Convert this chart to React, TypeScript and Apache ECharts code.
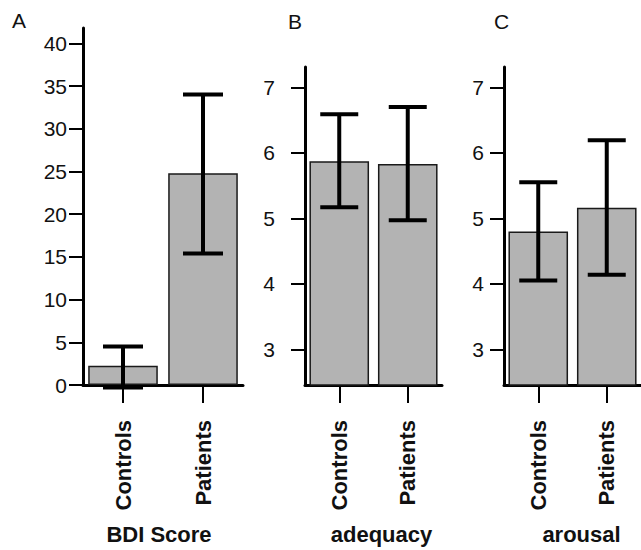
import React, { useEffect, useRef } from "react";
import * as echarts from "echarts";

const categories = ["Controls", "Patients"];

const bdiMeans = [2.25, 24.8];
const bdiLow = [-0.3, 15.4];
const bdiHigh = [4.5, 34.0];

const adequacyMeans = [5.87, 5.83];
const adequacyLow = [5.17, 4.97];
const adequacyHigh = [6.59, 6.7];

const arousalMeans = [4.8, 5.16];
const arousalLow = [4.05, 4.14];
const arousalHigh = [5.55, 6.19];

const bdiTicks = [0, 5, 10, 15, 20, 25, 30, 35, 40];
const ratingTicks = [3, 4, 5, 6, 7];

const panelLetters = ["A", "B", "C"];
const axisNames = ["BDI Score", "adequacy", "arousal"];

const FONT = "'Liberation Sans', Arial, Helvetica, sans-serif";

export default function App() {
  const ref = useRef<HTMLDivElement>(null);

  useEffect(() => {
    if (!ref.current) return;
    const chart = echarts.init(ref.current, null, { renderer: "svg" });

    const grids = [
      { left: 83, top: 28, width: 160, height: 361.5 },
      { left: 305, top: 67, width: 137, height: 321.5 },
      { left: 504, top: 67, width: 138, height: 321.5 },
    ];

    const namePads = [
      [0, 8, 0, 0],
      [0, 0, 0, 16],
      [0, 0, 0, 18],
    ];
    const yMargins = [16, 30, 20];
    const capWidths = [40, 38, 38];

    const means = [bdiMeans, adequacyMeans, arousalMeans];
    const lows = [bdiLow, adequacyLow, arousalLow];
    const highs = [bdiHigh, adequacyHigh, arousalHigh];

    const xAxes = grids.map((_, i) => ({
      type: "category",
      gridIndex: i,
      data: categories,
      name: axisNames[i],
      nameLocation: "middle",
      nameGap: 138,
      nameTextStyle: {
        fontSize: 22,
        fontWeight: "bold",
        color: "#111",
        fontFamily: FONT,
        padding: namePads[i],
      },
      axisLine: { show: true, lineStyle: { color: "#000", width: 3 } },
      axisTick: {
        show: true,
        alignWithLabel: true,
        length: 18,
        lineStyle: { color: "#000", width: 2 },
      },
      axisLabel: {
        rotate: 90,
        fontSize: 22,
        fontWeight: "bold",
        color: "#111",
        fontFamily: FONT,
        margin: 35,
        interval: 0,
      },
      splitLine: { show: false },
    }));

    const yAxes = grids.map((_, i) => {
      const ticks = i === 0 ? bdiTicks : ratingTicks;
      return {
        type: "value",
        gridIndex: i,
        min: i === 0 ? 0 : 2.455,
        max: i === 0 ? 41.8 : 7.31,
        axisLine: { show: true, lineStyle: { color: "#000", width: 3 } },
        axisTick: {
          show: true,
          length: 14,
          customValues: ticks,
          lineStyle: { color: "#000", width: 2 },
        },
        axisLabel: {
          customValues: ticks,
          fontSize: 21,
          color: "#111",
          fontFamily: FONT,
          margin: yMargins[i],
        },
        splitLine: { show: false },
      };
    });

    const barSeries = grids.map((_, i) => ({
      type: "bar",
      xAxisIndex: i,
      yAxisIndex: i,
      data: means[i],
      barWidth: "87%",
      itemStyle: { color: "#b3b3b3", borderColor: "#1a1a1a", borderWidth: 1.5 },
      z: 2,
    }));

    const errSeries = grids.map((_, i) => ({
      type: "custom",
      xAxisIndex: i,
      yAxisIndex: i,
      z: 5,
      data: categories.map((_, k) => [k, lows[i][k], highs[i][k]]),
      encode: { x: 0, y: [1, 2] },
      renderItem: (params: any, api: any) => {
        const x = api.value(0);
        const lo = api.coord([x, api.value(1)]);
        const hi = api.coord([x, api.value(2)]);
        const h = capWidths[i] / 2;
        const style = { stroke: "#000", lineWidth: 4 };
        return {
          type: "group",
          children: [
            { type: "line", shape: { x1: lo[0], y1: lo[1], x2: hi[0], y2: hi[1] }, style },
            { type: "line", shape: { x1: hi[0] - h, y1: hi[1], x2: hi[0] + h, y2: hi[1] }, style },
            { type: "line", shape: { x1: lo[0] - h, y1: lo[1], x2: lo[0] + h, y2: lo[1] }, style },
          ],
        };
      },
    }));

    const titleLefts = [12, 288, 494];
    chart.setOption({
      animation: false,
      backgroundColor: "#fff",
      title: panelLetters.map((t, i) => ({
        text: t,
        left: titleLefts[i],
        top: i === 0 ? 10 : 11,
        padding: 0,
        textStyle: { fontSize: 21, fontWeight: "normal", color: "#111", fontFamily: FONT },
      })),
      grid: grids,
      xAxis: xAxes,
      yAxis: yAxes,
      series: [...barSeries, ...errSeries],
    });

    return () => chart.dispose();
  }, []);

  return (
    <div
      ref={ref}
      style={{ position: "fixed", left: 0, top: 0, width: 641, height: 550 }}
    />
  );
}
